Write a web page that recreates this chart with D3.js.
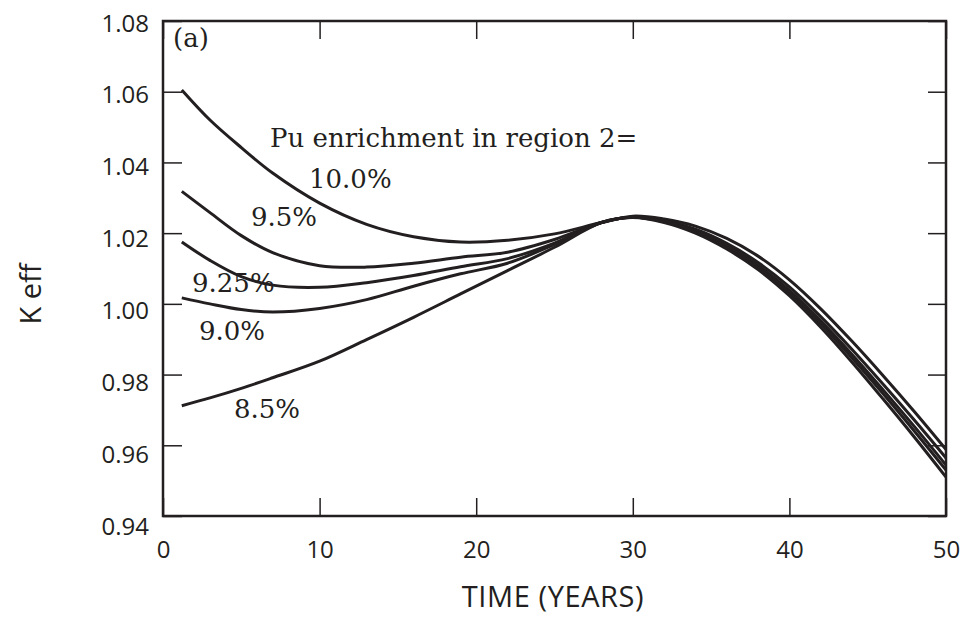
<!DOCTYPE html>
<html>
<head>
<meta charset="utf-8">
<script src="https://cdnjs.cloudflare.com/ajax/libs/d3/7.8.5/d3.min.js"></script>
<style>
  body { margin: 0; background: #fff; }
  .tick text { font-family: "Open Sans", sans-serif; font-size: 24px; fill: #231f20; }
  .tick line { stroke: #231f20; stroke-width: 1.5; }
  .lbl { font-family: "DejaVu Serif", serif; font-size: 26px; fill: #231f20; }
  .title { font-family: "Open Sans", sans-serif; font-size: 29px; fill: #231f20; }
</style>
</head>
<body>
<script>
// time points (years) shared by all curves
var years = [1.2, 3, 5, 7, 10, 13, 16, 19, 22, 25, 28, 30, 32, 34, 36, 38, 40, 42, 44, 46, 48, 50];

// K eff for each Pu enrichment in region 2
var keff100 = [1.0605, 1.0520, 1.0442, 1.0370, 1.0285, 1.0225, 1.0190, 1.0175, 1.0180, 1.0198, 1.0230,
               1.0248, 1.0240, 1.0220, 1.0185, 1.0135, 1.0068, 0.9986, 0.9894, 0.9796, 0.9694, 0.9588];
var keff95  = [1.0318, 1.0258, 1.0193, 1.0145, 1.0108, 1.0104, 1.0115, 1.0132, 1.0146, 1.0182, 1.0230,
               1.0246, 1.0236, 1.0211, 1.0171, 1.0117, 1.0048, 0.9964, 0.9871, 0.9772, 0.9670, 0.9564];
var keff925 = [1.0175, 1.0123, 1.0077, 1.0053, 1.0047, 1.0060, 1.0080, 1.0105, 1.0128, 1.0172, 1.0230,
               1.0245, 1.0234, 1.0207, 1.0165, 1.0109, 1.0038, 0.9952, 0.9857, 0.9756, 0.9652, 0.9544];
var keff90  = [1.0017, 1.0000, 0.9984, 0.9977, 0.9987, 1.0012, 1.0050, 1.0085, 1.0115, 1.0168, 1.0230,
               1.0245, 1.0232, 1.0204, 1.0161, 1.0104, 1.0031, 0.9944, 0.9847, 0.9745, 0.9639, 0.9530];
var keff85  = [0.9712, 0.9734, 0.9761, 0.9791, 0.9838, 0.9899, 0.9962, 1.0028, 1.0094, 1.0160, 1.0230,
               1.0244, 1.0230, 1.0200, 1.0155, 1.0097, 1.0023, 0.9934, 0.9835, 0.9730, 0.9622, 0.9510];

var series = [keff100, keff95, keff925, keff90, keff85];

// curve labels
var labels = ["10.0%", "9.5%", "9.25%", "9.0%", "8.5%"];
var labelPos = [[309, 188], [251, 226], [192, 292], [199, 340], [234, 418]];

var xTicks = [0, 10, 20, 30, 40, 50];
var yTicks = [0.94, 0.96, 0.98, 1.00, 1.02, 1.04, 1.06, 1.08];

var margin = {top: 21, right: 26, bottom: 119, left: 163},
    width = 972 - margin.left - margin.right,
    height = 635 - margin.top - margin.bottom;

var ink = "#231f20";

var xScale = d3.scaleLinear().domain([0, 50]).range([0, width]);
var yScale = d3.scaleLinear().domain([0.94, 1.08]).range([height, 0]);

var page = d3.select("body").append("svg")
    .attr("width", 972)
    .attr("height", 635);

var svg = page.append("g")
    .attr("transform", "translate(" + margin.left + "," + margin.top + ")");

// inward ticks on all four sides
var xAxis = d3.axisBottom(xScale).tickValues(xTicks).tickSizeInner(-18).tickSizeOuter(0).tickPadding(20)
    .tickFormat(d3.format("d"));
var yAxis = d3.axisLeft(yScale).tickValues(yTicks).tickSizeInner(-19).tickSizeOuter(0).tickPadding(14)
    .tickFormat(d3.format(".2f"));

var gx = svg.append("g")
    .attr("transform", "translate(0," + height + ")")
    .call(xAxis);
gx.select(".domain").remove();
gx.selectAll(".tick text").attr("dy", "0.9em");

var gy = svg.append("g").call(yAxis);
gy.select(".domain").remove();
// labels sit a little lower toward the bottom of the axis
gy.selectAll(".tick text").attr("dy", function(d) { return (10 + 8 * yScale(d) / height) + "px"; });

svg.append("g")
    .call(d3.axisTop(xScale).tickValues(xTicks).tickSizeInner(-18).tickSizeOuter(0).tickFormat(""))
    .select(".domain").remove();
svg.append("g")
    .attr("transform", "translate(" + width + ",0)")
    .call(d3.axisRight(yScale).tickValues(yTicks).tickSizeInner(-18).tickSizeOuter(0).tickFormat(""))
    .select(".domain").remove();

// frame
svg.append("rect")
    .attr("width", width)
    .attr("height", height)
    .attr("fill", "none")
    .attr("stroke", ink)
    .attr("stroke-width", 2.5);

var line = d3.line()
    .x(function(d, i) { return xScale(years[i]); })
    .y(function(d) { return yScale(d); })
    .curve(d3.curveCatmullRom.alpha(0.5));

svg.selectAll(".curve")
    .data(series)
    .enter().append("path")
    .attr("class", "curve")
    .attr("d", line)
    .attr("fill", "none")
    .attr("stroke", ink)
    .attr("stroke-width", 3);

// labels (page coords)
page.selectAll(".pct")
    .data(labels)
    .enter().append("text")
    .attr("class", "lbl pct")
    .attr("x", function(d, i) { return labelPos[i][0]; })
    .attr("y", function(d, i) { return labelPos[i][1]; })
    .text(function(d) { return d; });

page.append("text").attr("class", "lbl").attr("x", 270).attr("y", 147).text("Pu enrichment in region 2=");
page.append("text").attr("class", "lbl").attr("x", 173).attr("y", 47).text("(a)");

page.append("text")
    .attr("class", "title")
    .attr("text-anchor", "middle")
    .attr("letter-spacing", "0.6px")
    .attr("x", 553)
    .attr("y", 607)
    .text("TIME (YEARS)");

page.append("text")
    .attr("class", "title")
    .attr("text-anchor", "middle")
    .attr("transform", "translate(41,294) rotate(-90)")
    .text("K eff");
</script>
</body>
</html>
